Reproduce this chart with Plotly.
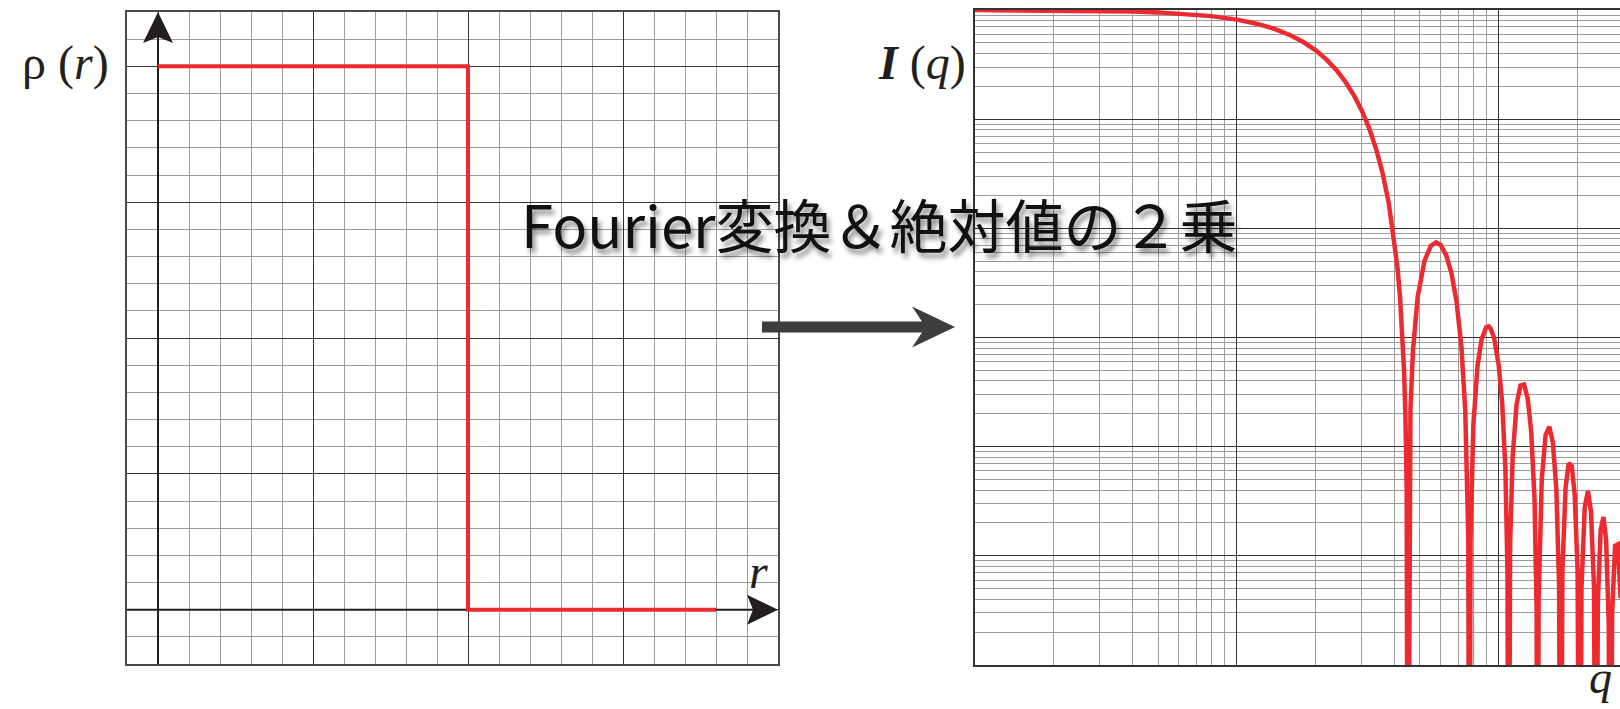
import plotly.graph_objects as go

# Radial density profile of a uniform sphere (grid units)
r_vals = [0, 10, 10, 18]
rho_vals = [20, 20, 0, 0]

# Scattering intensity I(q), normalised so that I(0) = 1
q_vals = [
    1, 2, 3, 4, 5, 6.5, 8, 10, 12, 14, 16, 18, 20, 22, 24, 26, 28, 30, 32, 34,
    35, 36, 38, 40, 41, 42, 43, 43.5, 44, 44.5, 44.93,
    45.5, 46, 47, 49, 52, 55, 57.6, 60, 63, 66, 69, 72, 74.5, 76.5, 77.25,
    78, 80, 83, 86, 89.5, 91.5, 93, 96, 100, 103, 106, 108, 109.04,
    110.5, 113, 117, 121, 125, 129, 133, 137, 139.5, 140.66,
    142, 146, 151, 156, 161, 166, 170, 172.21,
    175, 180, 185, 190, 195, 200, 203.71,
    207, 213, 219, 225, 231, 235.19,
    239, 245, 251, 257, 263, 266.67,
    271, 278, 285, 292,
]
I_vals = [
    0.998, 0.992, 0.9821, 0.9684, 0.9511, 0.9185, 0.8788, 0.8163, 0.7451, 0.6679,
    0.5872, 0.5060, 0.4265, 0.3511, 0.2816, 0.2193, 0.1651, 0.1195, 0.08244, 0.05354,
    0.04194, 0.03209, 0.01713, 0.007584, 0.004485, 0.002312, 9.28e-4, 4.96e-4, 1.99e-4, 4.10e-5, 1e-9,
    6.41e-5, 2.17e-4, 7.40e-4, 2.338e-3, 5.017e-3, 6.890e-3, 7.426e-3, 7.038e-3, 5.681e-3, 3.868e-3,
    2.127e-3, 8.31e-4, 2.126e-4, 1.46e-5, 1e-9,
    1.336e-5, 1.592e-4, 5.534e-4, 9.606e-4, 1.240e-3, 1.264e-3, 1.217e-3, 9.90e-4, 5.54e-4, 2.564e-4,
    6.36e-5, 7.09e-6, 1e-9,
    1.265e-5, 8.15e-5, 2.44e-4, 3.633e-4, 3.709e-4, 2.748e-4, 1.379e-4, 3.254e-5, 3.17e-6, 1e-9,
    3.92e-6, 5.09e-5, 1.277e-4, 1.523e-4, 1.087e-4, 4.00e-5, 5.15e-6, 1e-9,
    7.27e-6, 4.226e-5, 7.05e-5, 6.64e-5, 3.64e-5, 7.39e-6, 1e-9,
    5.1e-6, 2.80e-5, 3.91e-5, 2.55e-5, 5.24e-6, 1e-9,
    3.8e-6, 1.723e-5, 2.271e-5, 1.396e-5, 2.41e-6, 1e-9,
    2.95e-6, 1.236e-5, 1.275e-5, 4.08e-6,
]

W, H = 1620, 709
RED = "#ec2a30"
INK = "#231f20"
SERIF = "Liberation Serif, Times New Roman, serif"


def fx(p):
    return p / W


def fy(p):
    return 1 - p / H


fig = go.Figure()

fig.add_trace(go.Scatter(
    x=r_vals, y=rho_vals, mode="lines",
    line=dict(color=RED, width=4), xaxis="x", yaxis="y",
    hoverinfo="skip", showlegend=False,
))
fig.add_trace(go.Scatter(
    x=q_vals, y=I_vals, mode="lines",
    line=dict(color=RED, width=4.5), xaxis="x2", yaxis="y2",
    hoverinfo="skip", showlegend=False,
))

grid_major = "#333333"
grid_minor = "#9c9c9c"

fig.update_layout(
    width=W, height=H,
    margin=dict(l=0, r=0, t=0, b=0),
    paper_bgcolor="white", plot_bgcolor="white",
    showlegend=False,
    xaxis=dict(
        domain=[fx(127), fx(778)], range=[-1, 20],
        tick0=0, dtick=5, showticklabels=False, ticks="",
        showgrid=True, gridcolor=grid_major, gridwidth=1,
        minor=dict(tick0=0, dtick=1, showgrid=True, gridcolor=grid_minor, gridwidth=1),
        zeroline=False, showline=True, mirror=True, linecolor="#4a4a4a", linewidth=1.5,
        fixedrange=True,
    ),
    yaxis=dict(
        domain=[fy(664), fy(12)], range=[-2, 22],
        tick0=0, dtick=5, showticklabels=False, ticks="",
        showgrid=True, gridcolor=grid_major, gridwidth=1,
        minor=dict(tick0=0, dtick=1, showgrid=True, gridcolor=grid_minor, gridwidth=1),
        zeroline=False, showline=True, mirror=True, linecolor="#4a4a4a", linewidth=1.5,
        fixedrange=True,
    ),
    xaxis2=dict(
        domain=[fx(975), 1.0], type="log", range=[0, 2.463],
        dtick=1, showticklabels=False, ticks="",
        showgrid=True, gridcolor=grid_major, gridwidth=1,
        minor=dict(dtick="D1", showgrid=True, gridcolor=grid_minor, gridwidth=1),
        zeroline=False, showline=True, mirror=True, linecolor="#333333", linewidth=2,
        anchor="y2", fixedrange=True,
    ),
    yaxis2=dict(
        domain=[fy(665), fy(10)], type="log", range=[-6, 0],
        dtick=1, showticklabels=False, ticks="",
        showgrid=True, gridcolor=grid_major, gridwidth=1,
        minor=dict(dtick="D1", showgrid=True, gridcolor=grid_minor, gridwidth=1),
        zeroline=False, showline=True, mirror=False, linecolor="#333333", linewidth=2,
        anchor="x2", fixedrange=True,
    ),
)

# Coordinate axes of the density plot, drawn under the curve
fig.add_shape(type="line", xref="x", yref="y", x0=-1, x1=19.3, y0=0, y1=0,
              line=dict(color=INK, width=2), layer="between")
fig.add_shape(type="line", xref="x", yref="y", x0=0, x1=0, y0=-2, y1=21.2,
              line=dict(color=INK, width=2), layer="between")

# Arrow heads (pixel-sized paths anchored at the axis ends)
fig.add_shape(type="path", xref="x", yref="y", xsizemode="pixel", ysizemode="pixel",
              xanchor=20, yanchor=0,
              path="M0,0 L-31,15 L-25,0 L-31,-15 Z",
              fillcolor=INK, line=dict(width=0))
fig.add_shape(type="path", xref="x", yref="y", xsizemode="pixel", ysizemode="pixel",
              xanchor=0, yanchor=22,
              path="M0,0 L-15,-31 L0,-25 L15,-31 Z",
              fillcolor=INK, line=dict(width=0))

# Transform arrow between the two panels
fig.add_shape(type="path", xref="paper", yref="paper", xsizemode="pixel", ysizemode="pixel",
              xanchor=fx(955), yanchor=fy(327),
              path="M0,0 L-43,20.5 L-33,5.5 L-193,5.5 L-193,-5.5 L-33,-5.5 L-43,-20.5 Z",
              fillcolor="#3d3d3d", line=dict(width=0))

label_common = dict(xref="paper", yref="paper", showarrow=False,
                    xanchor="center", yanchor="middle")

# Axis labels
fig.add_annotation(x=fx(65), y=fy(63), text="ρ (<i>r</i>)",
                   font=dict(family=SERIF, size=48, color=INK), **label_common)
fig.add_annotation(x=fx(758), y=fy(571), text="<i>r</i>",
                   font=dict(family=SERIF, size=48, color=INK), **label_common)
fig.add_annotation(x=fx(922), y=fy(63), text="<b><i>I</i></b> (<i>q</i>)",
                   font=dict(family=SERIF, size=48, color=INK), **label_common)
fig.add_annotation(x=fx(1600), y=fy(677), text="<i>q</i>",
                   font=dict(family=SERIF, size=46, color=INK), **label_common)

# Caption of the transform
fig.add_annotation(x=fx(879), y=fy(223), text="Fourier変換＆絶対値の２乗",
                   font=dict(family="Noto Sans CJK JP, Noto Sans, sans-serif", size=58,
                             color="#111111",
                             shadow="3px 5px 5px rgba(0,0,0,0.45)"),
                   **label_common)

fig.write_html("out.html")
